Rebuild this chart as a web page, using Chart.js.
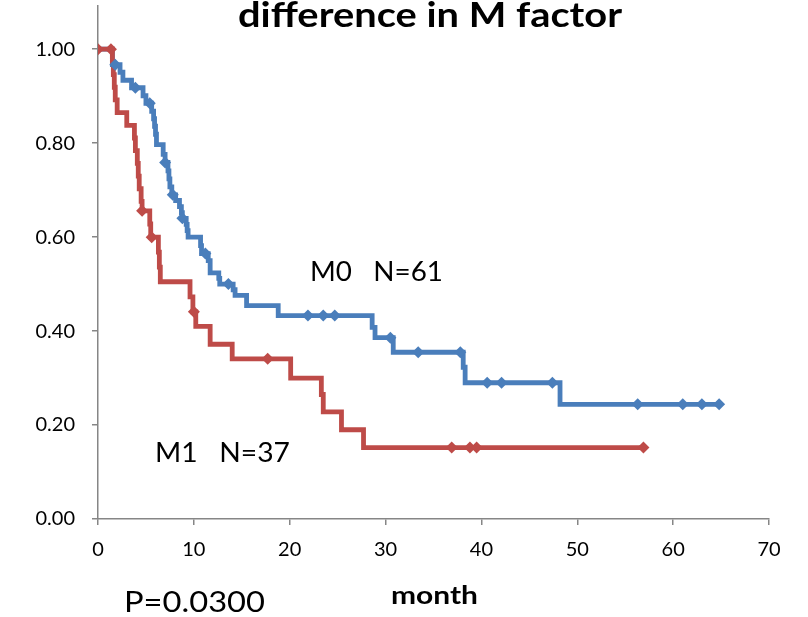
<!DOCTYPE html>
<html>
<head>
<meta charset="utf-8">
<script src="https://cdn.jsdelivr.net/npm/chart.js@4.4.0/dist/chart.umd.min.js"></script>
<style>
  html, body { margin: 0; padding: 0; background: #fff; }
</style>
</head>
<body>
<canvas id="km" width="808" height="617"></canvas>
<script>
// M0 (N=61): event times (month) and survival after each event
var m0Times = [0, 1.5, 2.3, 2.6, 3.5, 4.7, 5.0, 5.6, 5.8, 5.9, 6.0, 6.1, 6.8, 7.0, 7.3, 7.4, 7.5, 7.7, 8.1, 8.5,
               8.7, 8.8, 9.2, 9.3, 9.4, 10.7, 10.8, 11.5, 11.7, 12.6, 12.7, 14.1, 14.3, 15.5, 18.8, 28.6, 28.9,
               30.8, 38.1, 38.3, 48.2, 64.8];
var m0Surv  = [1, 0.967, 0.951, 0.934, 0.918, 0.901, 0.885, 0.868, 0.852, 0.836, 0.819, 0.797, 0.776, 0.759, 0.741,
               0.724, 0.707, 0.690, 0.678, 0.665, 0.652, 0.640, 0.627, 0.614, 0.600, 0.582, 0.565, 0.550, 0.524,
               0.512, 0.500, 0.488, 0.476, 0.454, 0.433, 0.408, 0.386, 0.355, 0.323, 0.290, 0.244, 0.244];
var m0Censored = [1.8, 3.9, 5.4, 7.0, 7.8, 8.8, 11.2, 13.6, 21.9, 23.5, 24.7, 30.5, 33.4, 37.8, 40.6, 42.1, 47.4,
                  56.3, 61.0, 63.0, 64.8];

// M1 (N=37)
var m1Times = [0, 1.5, 1.6, 1.7, 1.8, 2.0, 3.0, 3.8, 3.9, 4.1, 4.2, 4.3, 4.5, 4.6, 5.4, 5.5, 6.3, 6.4, 6.5, 9.6,
               9.9, 10.2, 11.7, 14.0, 20.1, 23.3, 23.5, 25.4, 27.7, 56.9];
var m1Surv  = [1, 0.973, 0.946, 0.919, 0.892, 0.865, 0.838, 0.811, 0.784, 0.757, 0.730, 0.703, 0.676, 0.656, 0.628,
               0.600, 0.568, 0.536, 0.505, 0.473, 0.441, 0.410, 0.372, 0.341, 0.300, 0.265, 0.228, 0.190, 0.152, 0.152];
var m1Censored = [0, 1.35, 4.6, 5.6, 10.0, 17.7, 36.9, 38.8, 39.5, 56.9];

var xTicks = [0, 10, 20, 30, 40, 50, 60, 70];
var yTicks = [0, 0.2, 0.4, 0.6, 0.8, 1.0];

var blue = '#4a7ebb';
var red = '#be4b48';
var axisGray = '#868686';

function steps(times, surv) {
  return times.map(function (t, i) { return { x: t, y: surv[i] }; });
}

// censor marks sit on the curve level at that time
function marks(censored, times, surv) {
  return censored.map(function (t) {
    var s = surv[0];
    for (var i = 0; i < times.length; i++) {
      if (times[i] <= t) s = surv[i];
    }
    return { x: t, y: s };
  });
}

// draw text from left edge, stretched/squeezed to a given width
function fitText(c, text, left, baseline, font, width) {
  c.save();
  c.font = font;
  c.textAlign = 'left';
  var w = c.measureText(text).width;
  c.translate(left, baseline);
  c.scale(width / w, 1);
  c.fillText(text, 0, 0);
  c.restore();
}

var textPlugin = {
  id: 'texts',
  afterDraw: function (chart) {
    var c = chart.ctx;
    c.save();
    c.fillStyle = '#000';
    c.textBaseline = 'alphabetic';
    fitText(c, 'difference in M factor', 238, 27, 'bold 34px Lato', 384);
    fitText(c, 'M0   N=61', 310, 281, '26px Lato', 133);
    fitText(c, 'M1   N=37', 155, 462, '26px Lato', 135);
    fitText(c, 'P=0.0300', 124, 612, '29px Lato', 141);
    fitText(c, 'month', 391, 604, 'bold 24px Lato', 87);
    c.restore();
  }
};

var ctx = document.getElementById('km').getContext('2d');
var kmChart = new Chart(ctx, {
  type: 'scatter',
  data: {
    datasets: [
      {
        data: marks(m1Censored, m1Times, m1Surv),
        showLine: false, pointStyle: 'rectRot', pointRadius: 6,
        backgroundColor: red, borderColor: red, borderWidth: 0
      },
      {
        data: marks(m0Censored, m0Times, m0Surv),
        showLine: false, pointStyle: 'rectRot', pointRadius: 6,
        backgroundColor: blue, borderColor: blue, borderWidth: 0
      },
      {
        data: steps(m1Times, m1Surv),
        showLine: true, stepped: 'before', pointRadius: 0,
        borderColor: red, borderWidth: 4.8, borderJoinStyle: 'miter'
      },
      {
        data: steps(m0Times, m0Surv),
        showLine: true, stepped: 'before', pointRadius: 0,
        borderColor: blue, borderWidth: 4.8, borderJoinStyle: 'miter'
      }
    ]
  },
  options: {
    responsive: false,
    animation: false,
    layout: { padding: { top: 0, right: 39, bottom: 0, left: 0 } },
    plugins: { legend: { display: false }, tooltip: { enabled: false } },
    scales: {
      x: {
        type: 'linear', min: 0, max: 70,
        afterBuildTicks: function (s) { s.ticks = xTicks.map(function (v) { return { value: v }; }); },
        afterFit: function (s) { s.height = 98; s.paddingLeft = 0; s.paddingRight = 0; },
        border: { color: axisGray, width: 1.5 },
        grid: { drawOnChartArea: false, drawTicks: true, tickLength: 6, color: axisGray, lineWidth: 1.5 },
        ticks: { color: '#000', font: { family: 'Lato', size: 20 }, padding: 13, maxRotation: 0 }
      },
      y: {
        min: 0, max: 1.092,
        afterBuildTicks: function (s) { s.ticks = yTicks.map(function (v) { return { value: v }; }); },
        afterFit: function (s) { s.width = 98; s.paddingTop = 0; s.paddingBottom = 0; },
        border: { color: axisGray, width: 1.5 },
        grid: { drawOnChartArea: false, drawTicks: true, tickLength: 6, color: axisGray, lineWidth: 1.5 },
        ticks: {
          color: '#000', font: { family: 'Lato', size: 20 }, padding: 17,
          callback: function (v) { return Number(v).toFixed(2); }
        }
      }
    }
  },
  plugins: [textPlugin]
});
</script>
</body>
</html>
